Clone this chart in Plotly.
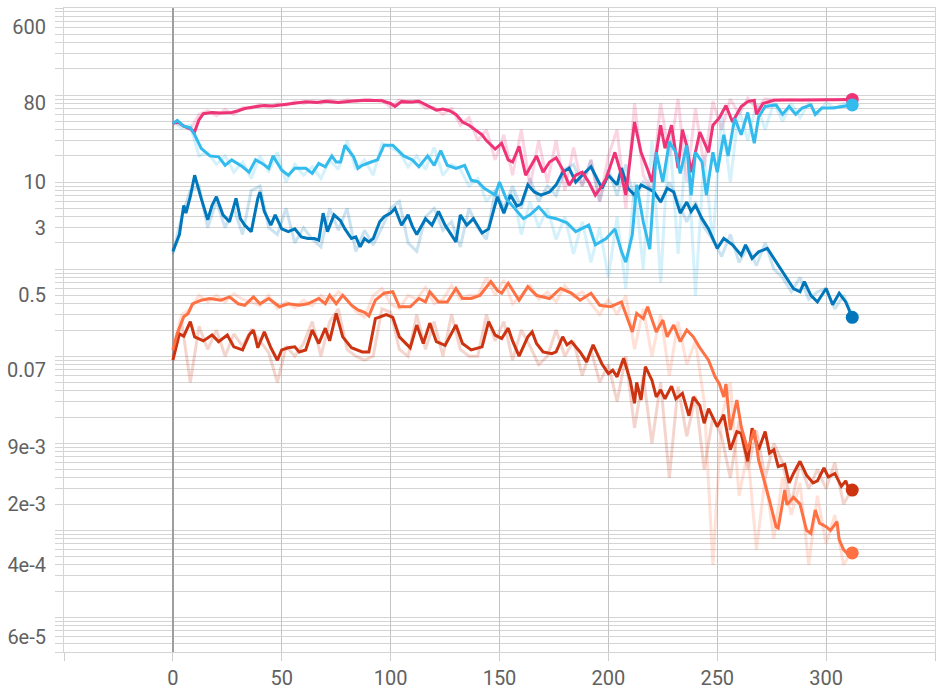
import plotly.graph_objects as go

# ---------------- data (smoothed lines) ----------------
magenta_steps = [0,2,5,8,10,12,14,18,22,27,30,33,37,42,46,50,55,61,66,70,76,80,84,90,96,100,102,105,110,113,117,121,124,127,130,133,136,139,142,144,148,151,154,156,159,162,167,170,173,176,179,182,185,188,191,194,197,199,203,206,208,212,215,218,220,224,226,229,232,234,236,238,242,246,248,251,254,257,261,264,267,268,271,276,280,290,300,312]
magenta_vals = [47,50,44,41,38,52,61,63,62,63,66,70,73,76,75,77,80,84,82,85,82,84,86,87,86,80,74,84,83,85,76,67,69,66,60,49,45,39.5,35,30,24,28,18,17,25.7,12,20,13,17,19,14,9.2,12,13,10,7.1,9,11,22,12,7.1,49,22,14,10,45,24.5,45,14.5,40,26,13,37.6,22,45,55,76,49,74,84,87,60,80,87,88,88,88,89]

cyan_steps = [0,2,5,8,10,13,17,21,24,27,32,35,38,41,44,46,50,53,56,61,64,67,70,73,75,77,79,83,85,87,91,94,97,101,106,110,113,117,120,123,126,130,134,137,140,143,148,150,153,157,161,164,168,172,176,181,185,191,194,199,203,206,208,211,213,216,219,222,225,228,231,233,236,238,240,243,245,248,250,253,255,258,261,264,267,269,272,277,280,283,286,289,293,295,298,303,307,312]
cyan_vals = [47,51,44,42,35,24.4,20,19.5,15.6,18,15,13,18,16.4,14.4,20,13.7,12,14.4,14.4,12.6,16.4,15,20,17,17,26.5,19.5,14.4,15.6,17,18,26.5,26.5,20,18,15,20,15.6,23,15.6,14.4,15.6,10.5,10.1,8.5,7.1,10,6.5,5.0,3.8,4.2,5.2,4.0,3.8,3.4,2.7,3.2,1.9,2.25,2.9,1.6,1.2,2.5,9.3,3.5,1.7,22,10,29,22,12.6,26.5,7.1,22,17,7.1,22,13,35,20,54,35,63,28,56,74,77,60,74,60,71,77,60,71,71,74,77]

blue_steps = [0,3,5,6,8,10,13,16,18,20,23,26,29,31,33,36,39,40,42,45,47,50,53,56,59,62,65,67,69,71,74,77,79,82,84,86,88,90,92,95,97,100,102,105,108,110,112,116,119,122,125,127,130,132,135,138,142,145,149,152,155,158,160,163,166,169,173,176,179,182,185,188,192,194,197,200,204,206,209,212,215,218,221,224,227,230,233,236,238,240,243,246,250,253,257,261,263,266,269,273,277,280,285,288,290,293,296,300,303,306,309,311,312]
blue_vals = [1.6,2.5,5.4,4.4,6.8,12,6.5,3.7,5.4,6.8,4.2,3.5,6.5,3.8,3.2,2.7,6.5,7.7,4.6,3.2,4.2,2.9,2.7,2.9,2.35,2.25,2.25,2.15,4.4,2.7,4.2,3.6,2.9,2.25,2.35,1.8,2.25,2.06,2.25,3.5,4.0,4.4,5.0,3.2,4.2,3.1,2.5,3.8,3.2,4.6,3.2,2.7,2.06,4.2,3.2,3.8,2.6,2.9,6.8,4.4,7.1,5.3,5.6,9.3,7.7,7.1,7.7,9.3,13,14.5,10,12,15,12,8.5,12,9.3,14.5,8.5,7.1,9.3,8.5,7.7,5.9,8.5,7.7,4.4,5.9,4.6,5.4,3.8,2.9,1.73,2.25,1.9,1.45,1.9,1.33,1.58,1.73,1.22,0.93,0.60,0.55,0.72,0.50,0.42,0.60,0.39,0.53,0.42,0.32,0.28]

orange_steps = [0,2,5,7,9,13,17,22,26,30,33,37,40,44,49,53,58,62,67,70,72,75,78,82,85,88,90,93,97,101,104,109,113,116,118,122,126,130,133,137,141,146,149,151,154,159,163,167,173,178,183,187,192,196,201,206,211,213,216,218,222,225,227,230,233,236,239,242,246,249,251,253,254,256,259,261,264,267,269,272,274,277,278,281,282,285,288,291,293,295,297,300,302,305,306,308,311,312]
orange_vals = [0.118,0.183,0.284,0.31,0.40,0.44,0.46,0.44,0.48,0.40,0.385,0.48,0.40,0.46,0.37,0.40,0.385,0.40,0.46,0.40,0.50,0.40,0.50,0.385,0.34,0.32,0.29,0.44,0.53,0.55,0.37,0.37,0.46,0.42,0.55,0.42,0.42,0.60,0.46,0.46,0.50,0.72,0.57,0.53,0.69,0.44,0.63,0.50,0.46,0.60,0.53,0.44,0.53,0.385,0.37,0.42,0.19,0.31,0.27,0.37,0.19,0.26,0.167,0.228,0.147,0.2,0.167,0.125,0.09,0.058,0.048,0.034,0.048,0.0142,0.0314,0.0155,0.0084,0.0142,0.0064,0.0035,0.0022,0.0011,0.00106,0.0029,0.00196,0.0024,0.0020,0.0010,0.00092,0.00171,0.00121,0.0011,0.0010,0.00126,0.00078,0.0006,0.0005,0.00055]

red_steps = [0,3,5,8,10,14,18,21,25,28,32,35,37,39,42,45,48,50,53,56,58,61,64,67,70,72,75,78,82,87,90,93,98,101,104,109,112,115,118,121,125,130,133,137,142,145,148,151,154,156,159,163,165,167,170,174,176,179,181,183,187,190,193,197,200,202,204,207,210,212,213,215,217,220,222,224,226,229,231,234,237,239,242,244,246,249,250,253,256,259,261,264,266,269,272,274,276,278,281,283,285,288,291,294,296,299,301,304,307,309,311,312]
red_vals = [0.09,0.18,0.17,0.25,0.167,0.15,0.175,0.147,0.175,0.128,0.118,0.175,0.2,0.125,0.19,0.125,0.09,0.118,0.125,0.128,0.112,0.118,0.2,0.14,0.21,0.15,0.31,0.167,0.125,0.112,0.112,0.27,0.3,0.28,0.167,0.125,0.228,0.14,0.24,0.147,0.133,0.228,0.14,0.118,0.128,0.25,0.175,0.16,0.21,0.15,0.1,0.167,0.19,0.14,0.112,0.107,0.112,0.167,0.135,0.147,0.112,0.086,0.135,0.082,0.063,0.069,0.058,0.095,0.053,0.0288,0.05,0.0314,0.076,0.053,0.034,0.041,0.0324,0.0453,0.0324,0.0375,0.0207,0.034,0.027,0.017,0.025,0.0177,0.0155,0.0213,0.0084,0.0136,0.013,0.0062,0.0149,0.0084,0.0136,0.0077,0.0084,0.0054,0.0057,0.0035,0.0045,0.0062,0.0043,0.0035,0.0037,0.0052,0.0041,0.0045,0.0032,0.0037,0.0027,0.0029]

# ---------------- data (raw, faded) ----------------
raw_steps = list(range(0, 313, 4))
magenta_raw = [47,46,40,60,66,58,68,60,72,70,
               78,72,80,76,84,80,86,80,88,82,
               88,84,90,86,88,72,88,82,86,70,
               72,60,70,45,55,30,40,18,35,12,
               40,9,30,10,30,8,25,9,18,6,
               20,40,5,80,12,8,80,20,90,10,
               70,15,85,40,90,60,92,70,90,89,
               88,89,88,89,88,89,88,89,89]
cyan_raw = [50,42,45,20,22,16,20,13,17,11,
            20,13,22,10,16,12,15,11,18,14,
            30,14,18,12,28,25,22,15,20,14,
            25,12,16,14,9,11,6,8,5,8,
            2.5,6,3,5,2.2,4,1.5,3.5,1.2,3,
            0.8,4,0.6,10,1.0,30,0.7,40,1.5,35,
            0.5,20,2,60,10,70,30,80,40,82,
            50,80,55,80,60,82,70,80,78]
blue_raw = [1.5,4,8,9,3,6,3,5,2.5,8,
            9,3,2.5,5,2,3,2.2,1.8,5,2.8,
            5,1.6,2.8,1.9,3,5,6,2,1.6,4,
            5,2.8,3.5,1.8,5,3,2.2,8,5,9,
            5,11,6,9,7,14,16,9,18,6,
            14,7,16,6,10,8,6,10,6,3.5,
            6,3,2.2,1.4,2.5,1.2,1.8,1.1,2,1.0,
            0.8,0.55,0.8,0.45,0.55,0.6,0.35,0.5,0.3]
orange_raw = [0.12,0.3,0.35,0.5,0.42,0.5,0.42,0.52,0.45,0.42,
              0.38,0.5,0.35,0.42,0.36,0.44,0.38,0.5,0.42,0.55,
              0.45,0.33,0.28,0.5,0.6,0.4,0.35,0.5,0.45,0.62,
              0.4,0.45,0.65,0.45,0.5,0.5,0.8,0.5,0.75,0.4,
              0.5,0.65,0.45,0.55,0.42,0.65,0.48,0.55,0.4,0.3,
              0.45,0.3,0.5,0.12,0.35,0.1,0.3,0.06,0.25,0.08,
              0.15,0.03,0.0004,0.02,0.05,0.0025,0.008,0.0006,0.004,0.0008,
              0.004,0.0015,0.0035,0.0004,0.0025,0.0007,0.0015,0.0004,0.0006]
red_raw = [0.1,0.25,0.05,0.22,0.12,0.2,0.1,0.18,0.13,0.2,
           0.15,0.11,0.05,0.13,0.1,0.14,0.25,0.1,0.25,0.35,
           0.12,0.1,0.09,0.1,0.35,0.32,0.12,0.1,0.3,0.12,
           0.25,0.1,0.3,0.12,0.1,0.1,0.3,0.15,0.25,0.09,
           0.2,0.13,0.08,0.1,0.2,0.1,0.15,0.06,0.12,0.05,
           0.08,0.03,0.1,0.015,0.06,0.01,0.05,0.004,0.045,0.012,
           0.035,0.005,0.02,0.012,0.004,0.018,0.005,0.014,0.004,0.01,
           0.006,0.002,0.006,0.003,0.005,0.003,0.006,0.002,0.003]

y_tick_vals = [6e-5, 4e-4, 2e-3, 9e-3, 0.07, 0.5, 3, 10, 80, 600]
y_tick_text = ["6e-5", "4e-4", "2e-3", "9e-3", "0.07", "0.5", "3", "10", "80", "600"]
x_tick_vals = [-50, 0, 50, 100, 150, 200, 250, 300, 350]
x_tick_text = ["", "0", "50", "100", "150", "200", "250", "300", ""]

for s, v in [(magenta_steps, magenta_vals), (cyan_steps, cyan_vals), (blue_steps, blue_vals),
             (orange_steps, orange_vals), (red_steps, red_vals)]:
    assert len(s) == len(v), (len(s), len(v))
for r in [magenta_raw, cyan_raw, blue_raw, orange_raw, red_raw]:
    assert len(r) == len(raw_steps), len(r)

# ---------------- figure ----------------
C_ORANGE = "#ff7043"
C_BLUE = "#0077bb"
C_RED = "#cc3311"
C_CYAN = "#33bbee"
C_MAGENTA = "#ee3377"

series = [
    ("red", red_steps, red_vals, red_raw, C_RED),
    ("orange", orange_steps, orange_vals, orange_raw, C_ORANGE),
    ("blue", blue_steps, blue_vals, blue_raw, C_BLUE),
    ("magenta", magenta_steps, magenta_vals, magenta_raw, C_MAGENTA),
    ("cyan", cyan_steps, cyan_vals, cyan_raw, C_CYAN),
]

fig = go.Figure()
for name, st, vals, raw, col in series:
    fig.add_trace(go.Scatter(x=raw_steps, y=raw, mode="lines", opacity=0.2,
                             line=dict(color=col, width=3), showlegend=False,
                             hoverinfo="skip"))
for name, st, vals, raw, col in series:
    fig.add_trace(go.Scatter(x=st, y=vals, mode="lines",
                             line=dict(color=col, width=3), showlegend=False, name=name))
    fig.add_trace(go.Scatter(x=[st[-1]], y=[vals[-1]], mode="markers",
                             marker=dict(color=col, size=13), showlegend=False))

minor_vals = []
for n in range(-5, 4):
    for k in range(1, 10):
        v = k * 10.0 ** n
        if 4e-5 <= v <= 1000:
            minor_vals.append(v)

GRID = "#d4d4d4"
fig.update_layout(
    width=943, height=690,
    margin=dict(l=64, r=8, t=8, b=38),
    paper_bgcolor="white", plot_bgcolor="white",
    font=dict(family="Roboto", size=20, color="#616161"),
    showlegend=False,
)
fig.update_xaxes(
    range=[-50, 350], tickvals=x_tick_vals, ticktext=x_tick_text,
    showgrid=True, gridcolor="#c4c4c4", gridwidth=1,
    ticks="outside", ticklen=8, tickcolor="#cfcfcf",
    zeroline=True, zerolinecolor="#9e9e9e", zerolinewidth=2,
    showline=True, linecolor=GRID, mirror=True,
    ticklabelstandoff=0, automargin=False,
)
fig.update_yaxes(
    type="log", range=[-4.39794, 3.0],
    tickvals=y_tick_vals, ticktext=y_tick_text,
    showgrid=True, gridcolor=GRID, gridwidth=1,
    ticks="outside", ticklen=8, tickcolor=GRID,
    zeroline=False,
    showline=True, linecolor=GRID, mirror=True,
    minor=dict(tickvals=minor_vals, showgrid=True, gridcolor=GRID, gridwidth=1,
               ticks="outside", ticklen=8, tickcolor=GRID),
    ticklabelstandoff=5, automargin=False,
)

fig.write_html("out.html", config={"displayModeBar": False},
               post_script="document.body.style.margin='0';document.body.style.padding='0';")
